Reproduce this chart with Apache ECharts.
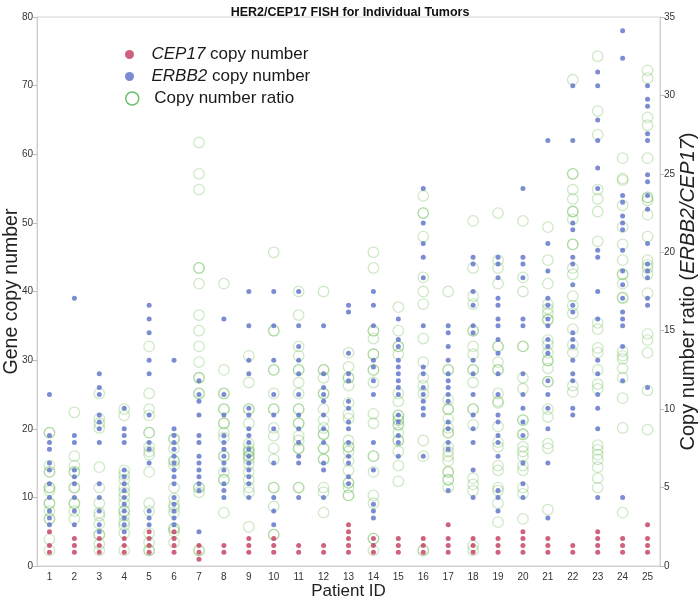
<!DOCTYPE html>
<html><head><meta charset="utf-8">
<script src="https://cdn.jsdelivr.net/npm/echarts@6/dist/echarts.min.js"></script>
<style>html,body{margin:0;padding:0;background:#fff}#c{width:700px;height:600px}</style>
</head><body><div id="c"></div>
<script>
const patients = ['1','2','3','4','5','6','7','8','9','10','11','12','13','14','15','16','17','18','19','20','21','22','23','24','25'];
const leftTicks = [0, 80, 10];
const rightTicks = [0, 35, 5];

const cep17 = [
  [5,3,2],[4,3,2],[4,3,2],[4,3,2],[5,4,3,2],[5,4,3,2],[3,2,1],[3,2],[4,3,2],[4,3,2],
  [3,2],[3,2],[6,5,4,3,2],[4,3,2],[4,3,2],[4,3,2],[6,4,3,2],[4,3,2],[4,3,2],[5,4,3,2],
  [4,3,2],[3,2],[5,4,3,2],[4,3,2],[6,4,3,2]
];

const erbb2 = [
  [25,19,18,17,15,14,12,10,8,7,6],
  [39,19,18,14,13,12,10,8,6],
  [28,26,25,22,21,20,18,12,10,8,6,5],
  [23,20,19,18,14,13,12,11,10,9,8,7,6,5],
  [38,36,34,30,28,22,18,17,15,8,7,6],
  [30,20,19,18,17,16,15,14,13,12,10,9,8,7,6],
  [27,25,24,22,19,18,16,15,14,13,12,11,5],
  [36,25,22,19,18,17,16,15,14,12,11,10],
  [40,35,30,28,23,22,20,19,18,17,16,15,14,13,12,10],
  [40,35,30,25,22,20,15,10,8,6],
  [40,35,32,30,28,25,22,20,18,16,15,10],
  [35,28,26,25,24,22,20,18,15,14,10],
  [38,37,31,28,27,24,23,21,20,18,16,15,13,12],
  [40,38,35,30,29,27,25,18,14,9,8,7],
  [36,33,32,30,29,28,27,26,25,22,21,19,18,16],
  [55,50,47,45,42,35,29,28,26,25,24,23,22,16],
  [35,34,32,30,28,27,26,25,24,21,20,18,17,11],
  [45,44,40,38,35,34,30,28,25,22,20,18,14,10],
  [45,44,42,39,38,36,35,33,31,28,25,22,21,19,18,16,11,10,8],
  [55,45,44,42,36,35,28,25,23,21,19,15,12,10],
  [62,47,43,39,38,36,35,33,32,31,27,25,23,20,15,7],
  [70,62,50,49,45,44,41,38,37,34,33,32,30,28,27,23,22],
  [72,70,65,62,58,55,46,45,40,36,30,28,25,23,20,10],
  [78,74,54,53,51,50,49,46,43,41,39,37,36,35,32,27,10],
  [70,68,67,63,62,57,56,54,52,47,44,43,42,39,38,26]
];

const ratio = [
  [8.5,8.5,6.4,6,6,5,5,4.8,4,4,3.5,3,3,1.7,1],
  [9.8,7,6.4,6,6,5,5,4,4,3.5,3],
  [11,9.4,9.1,8.8,6.3,5,4,3.4,3.2,2.7,2,2,1.4,1],
  [10,9.6,6.1,5.8,5.5,5,4.7,4.4,4,3.5,3.5,3.2,2.8,2.6,2.1,1],
  [14,11,10,9.6,8.5,8.5,7.6,7.3,7.1,6,4,3.5,2.1,1.5,1,1],
  [8.1,8.1,7.5,6.7,6.7,6.4,5,4.3,3.9,3.7,3.4,2.4,2.4,2.2,1.5],
  [27,25,24,19,19,18,16,15,14,13,12,12,11,11,5,5,4.7,1,1],
  [18,12.5,11,11,10,10,9.1,9.1,8.5,8.2,7,7,6,5.5,5.5,3.4],
  [13.4,11.7,10,10,9.1,7.8,7.5,7.3,7.3,7,7,6.8,6.5,6,5.5,5,4.7,2.5],
  [20,15,15,12.5,12.5,11,10,10,8.8,8.3,7.5,6.8,5,5,3.8,2,2],
  [17.5,16,14,13.4,12.5,12.5,11.7,11,10,10,9.1,9.1,8.3,8,7.5,7.5,5,5],
  [17.5,12.5,12.5,12,11,11,10,9.3,8.8,8.4,8.4,7.5,7.5,6.8,6.8,5,4.7,3.4],
  [13.6,12.7,12,12,11.5,10.4,9.7,9.4,8,7.6,7.6,7.3,6.7,6.1,5.3,5.3,5,4.5,4.5],
  [20,19,15,15,14.5,13.5,13.5,12.5,12.5,11.7,9.7,9.1,7,7,6,4.5,4,1.75,1.75,1],
  [16.5,15,14,14,13.5,11,10.5,9.6,9.6,9.3,9.3,9,9,8.5,8,8,7.3,6.4,5.4],
  [23.6,22.5,22.5,21,18.4,17.5,16.7,14.5,13,12,11.5,11,8,7,1,1],
  [17.5,12.5,12.5,10.6,10,10,9.4,8.8,8.5,8.5,7.6,7.3,7,6.7,6,6,5.5,5.5,5],
  [22,19,17.2,16.7,15,15,14,13.5,12.5,12.5,11.7,10,10,9,5.6,5.2,4.8,1.3,1],
  [22.5,19.5,19,18,14,14,13,12.5,12.5,11,10.5,10.4,8.9,7.9,7.6,6.4,6.1,5,4.8,4,2.8],
  [22,18.4,17.5,14,14,12,11.3,9.3,9.3,8.4,8.4,7.6,7.3,7,6.4,6.1,5,4.6,3],
  [21.6,19.5,18,16.7,16.4,16.1,15.7,15.7,14.4,14.1,13.6,13.1,13.1,12.6,11.75,11.75,10,9.5,7.8,7.5,3.6],
  [31,25,25,24,23.4,22.6,22.6,22.1,20.5,20.5,19,18.6,17.2,16.6,16.1,15.1,14.1,13.6,11.5,11.1],
  [32.5,29,27.5,24,23.4,22.6,20.7,15.5,15.1,13.9,13.6,12.5,11.6,11.3,7.7,7.4,7.1,6.8,6.3,5.6,5],
  [26,24.7,24.6,23,21.6,20.5,19.5,18.6,18.6,18,17.1,17.1,13.7,13.4,13.2,12.6,12,10.7,8.8,3.4],
  [31.6,31.1,28.6,28.1,26,23.5,23.5,23.3,22.4,21,19.5,19.2,19,18.6,17.4,14.8,14.4,13.6,11.2,8.7]
];

function toPoints(groups) {
  const out = [];
  groups.forEach((vals, i) => vals.forEach(v => out.push([patients[i], v])));
  return out;
}

const FONT = "'Liberation Sans', Arial, Helvetica, sans-serif";
const legendNames = {
  CEP17: '{i|CEP17} copy number',
  ERBB2: '{i|ERBB2} copy number',
  Ratio: 'Copy number ratio'
};
const legendText = {
  fontSize: 17, color: '#1a1a1a', fontFamily: FONT,
  rich: { i: { fontStyle: 'italic', fontSize: 17, color: '#1a1a1a', fontFamily: FONT } }
};

const chart = echarts.init(document.getElementById('c'), null, { renderer: 'canvas' });
chart.setOption({
  backgroundColor: '#ffffff',
  animation: false,
  textStyle: { fontFamily: FONT },
  title: {
    text: 'HER2/CEP17 FISH for Individual Tumors',
    left: 'center', top: 1,
    textStyle: { fontSize: 12.5, fontWeight: 'bold', color: '#111', fontFamily: FONT }
  },
  legend: [
    {
      data: ['CEP17', 'ERBB2'], orient: 'vertical', left: 120, top: 41,
      itemWidth: 34, itemHeight: 9, itemGap: 5, icon: 'circle',
      formatter: n => legendNames[n], textStyle: legendText, selectedMode: false
    },
    {
      data: [{ name: 'Ratio', icon: 'circle', itemStyle: { color: 'rgba(0,0,0,0)', borderColor: '#4cb04a', borderWidth: 1.5 } }],
      orient: 'vertical', left: 120, top: 85,
      itemWidth: 34, itemHeight: 13, formatter: n => legendNames[n], textStyle: legendText, selectedMode: false
    }
  ],
  grid: { left: 37, right: 40, top: 17, bottom: 34, show: true, borderColor: '#d4d4d4', borderWidth: 1, outerBoundsMode: 'none' },
  xAxis: {
    type: 'category', data: patients, boundaryGap: true,
    axisLine: { lineStyle: { color: '#cfcfcf' } },
    axisTick: { alignWithLabel: true, length: 4, lineStyle: { color: '#bdbdbd' } },
    axisLabel: { fontSize: 10, color: '#333', margin: 6, fontFamily: FONT },
    splitLine: { show: false },
    name: 'Patient ID', nameLocation: 'middle', nameGap: 17, nameMoveOverlap: false,
    nameTextStyle: { fontSize: 17, color: '#222', fontFamily: FONT }
  },
  yAxis: [
    {
      type: 'value', position: 'left', min: leftTicks[0], max: leftTicks[1], interval: leftTicks[2],
      axisLine: { show: true, lineStyle: { color: '#cfcfcf' } },
      axisTick: { show: true, length: 4, lineStyle: { color: '#bdbdbd' } },
      axisLabel: { fontSize: 10, color: '#333', margin: 4, fontFamily: FONT },
      splitLine: { show: false },
      name: 'Gene copy number', nameLocation: 'middle', nameRotate: 90, nameGap: 15, nameMoveOverlap: false,
      nameTextStyle: { fontSize: 19.5, color: '#222', fontFamily: FONT }
    },
    {
      type: 'value', position: 'right', min: rightTicks[0], max: rightTicks[1], interval: rightTicks[2],
      axisLine: { show: true, lineStyle: { color: '#cfcfcf' } },
      axisTick: { show: true, length: 4, lineStyle: { color: '#bdbdbd' } },
      axisLabel: { fontSize: 10, color: '#333', margin: 4, fontFamily: FONT },
      splitLine: { show: false },
      name: '{n|Copy number ratio (}{i|ERBB2/CEP17}{n|)}', nameLocation: 'middle', nameRotate: 90, nameGap: 18, nameMoveOverlap: false,
      nameTextStyle: {
        fontSize: 20, color: '#222', fontFamily: FONT,
        rich: {
          n: { fontSize: 20, color: '#222', fontFamily: FONT },
          i: { fontSize: 20, color: '#222', fontStyle: 'italic', fontFamily: FONT }
        }
      }
    }
  ],
  series: [
    {
      name: 'Ratio', type: 'scatter', yAxisIndex: 1, z: 1,
      symbol: 'circle', symbolSize: 10.5,
      itemStyle: { color: 'rgba(0,0,0,0)', borderColor: 'rgba(90,178,64,0.36)', borderWidth: 1.3 },
      data: toPoints(ratio)
    },
    {
      name: 'ERBB2', type: 'scatter', yAxisIndex: 0, z: 2,
      symbol: 'circle', symbolSize: 5,
      itemStyle: { color: '#5a6fc8' },
      data: toPoints(erbb2)
    },
    {
      name: 'CEP17', type: 'scatter', yAxisIndex: 0, z: 3,
      symbol: 'circle', symbolSize: 5,
      itemStyle: { color: '#c43a5c' },
      data: toPoints(cep17)
    }
  ]
});
</script>
</body></html>
